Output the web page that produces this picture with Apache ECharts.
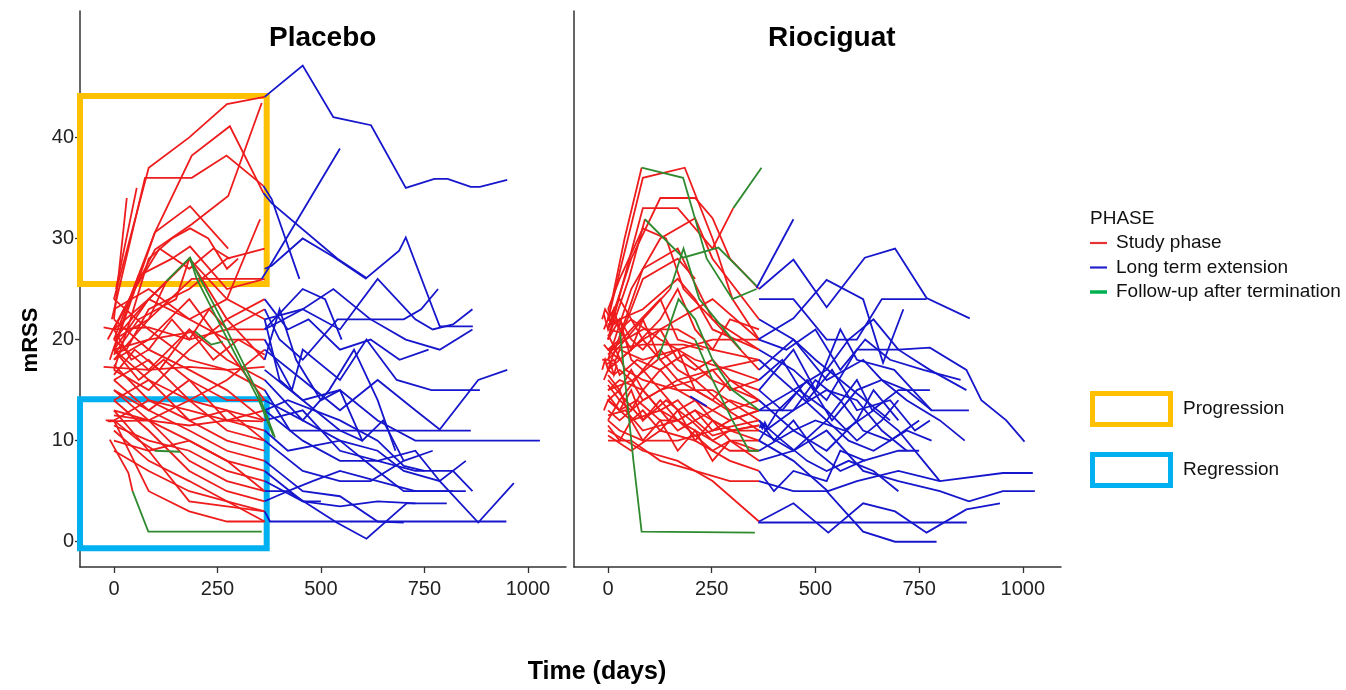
<!DOCTYPE html>
<html><head><meta charset="utf-8">
<script src="https://cdn.jsdelivr.net/npm/echarts@6/dist/echarts.min.js"></script>
<style>html,body{margin:0;padding:0;background:#fff}#c{width:1346px;height:690px}</style>
</head><body><div id="c"></div>
<script>
// ---- tick labels / categories ----
const xTickValues = [0, 250, 500, 750, 1000];
const yTickValues = [0, 10, 20, 30, 40];
const panelTitles = ['Placebo', 'Riociguat'];
const phaseNames = ['Study phase', 'Long term extension', 'Follow-up after termination'];
const boxNames = ['Progression', 'Regression'];
// annotation boxes (days, mRSS)
const progressionBox = [[-82, 44.1], [369, 25.5]];
const regressionBox = [[-82, 14.1], [369, -0.65]];

// ---- Placebo: study phase (days, mRSS) ----
const placeboStudy = [
  [[0,24],[84,37],[182,40],[273,43.3],[364,44]],
  [[-5,22],[75,36],[188,36],[272,38.2],[361,35.2]],
  [[0,20],[99,30.6],[188,38.2],[280,41.1],[361,34.5]],
  [[0,21],[99,28.9],[188,31.4],[276,34.2],[357,43.4]],
  [[0,22],[31,34]],
  [[5,25],[55,35]],
  [[0,19],[99,30.6],[184,33.2],[276,29]],
  [[-10,18],[59,26.3],[140,28],[184,29.2],[273,25],[364,26]],
  [[0,20],[84,22],[188,26],[273,26],[357,26]],
  [[0,12],[84,5],[182,3],[273,2],[364,2]],
  [[-10,10.1],[35,6.8],[45,5]],
  [[0,11],[84,8],[182,6],[273,4],[364,2]],
  [[0,13],[84,9],[182,4],[273,3.5],[364,3]],
  [[0,14],[84,11],[182,7],[273,5],[364,4]],
  [[-25,21.2],[0,21],[84,21.2],[182,20],[273,21],[364,21]],
  [[-25,17.3],[84,17],[182,17.3],[273,17],[364,17.3]],
  [[0,18.7],[30,19],[84,23],[182,25],[273,28],[364,29]],
  [[0,19],[84,24],[182,28],[273,22],[364,18]],
  [[0,18],[84,20],[182,24],[273,19],[364,14]],
  [[0,17],[84,15],[182,19],[273,22],[364,24]],
  [[0,16],[84,18],[182,14],[273,16],[364,19]],
  [[0,15],[84,13],[182,16],[273,12],[364,13]],
  [[0,14],[84,16],[182,12],[273,10],[364,9]],
  [[-20,12],[0,12],[84,14],[182,13],[273,12],[364,11]],
  [[0,13],[84,12],[182,10],[273,8],[364,7]],
  [[0,11.5],[84,10],[182,9],[273,7],[364,6]],
  [[0,10],[84,9],[182,10],[273,8],[364,5]],
  [[0,22],[84,19],[182,17],[273,15],[364,12]],
  [[0,19],[84,16],[182,14],[273,13],[364,10]],
  [[0,24],[84,21],[182,18],[273,17],[364,15]],
  [[0,23],[84,25],[182,22],[273,20],[364,20]],
  [[0,20],[84,17],[182,21],[273,18],[364,16]],
  [[0,16],[84,13],[182,11],[273,9],[364,8]],
  [[0,17.5],[84,14],[182,12],[273,13],[364,12]],
  [[0,15],[84,12],[182,8],[273,6],[364,5]],
  [[0,18.5],[60,22],[150,24],[182,28],[273,24],[364,22]],
  [[0,12.5],[84,12],[182,14],[273,11],[364,10]],
  [[0,9],[84,7],[182,5],[273,4],[364,3]],
  [[0,18],[84,22],[127,25.8]],
  [[0,20],[84,24],[184,28]],
  [[0,19],[84,20],[196,20.8]],
  [[0,12],[60,10],[99,9]],
  [[0,21],[84,24],[182,22],[273,24],[353,31.9]],
  [[0,17],[40,22],[84,28],[140,30],[184,31],[228,30],[273,27],[300,28]],
  [[-15,20],[50,25],[110,29],[182,27],[240,29],[280,28]],
  [[-15,11.9],[84,12],[182,11.5],[273,12],[360,11.9]],
  [[0,19],[60,16],[120,18],[182,16],[273,14],[364,14]],
  [[0,21],[42,18],[84,19],[140,22],[182,20],[230,23],[273,21],[364,23]],
  [[0,16.5],[50,19],[110,17],[182,21],[240,18],[300,20],[364,18.5]]
];
// ---- Placebo: long term extension ----
const placeboLTE = [
  [[364,44],[456,47.1],[530,42],[621,41.2],[705,35],[774,35.9],[806,35.9],[862,35.1],[884,35.1],[950,35.8]],
  [[361,35.2],[381,33.9],[448,26]],
  [[361,34.5],[381,33.5],[540,28],[610,26.1],[689,28.8],[705,30.1],[771,23],[787,21.3],[867,21.3]],
  [[357,26],[377,27.3],[546,38.9]],
  [[364,27],[381,27.3],[456,30],[530,28.2],[610,26]],
  [[364,22],[456,23],[530,25],[620,22],[700,22],[742,23],[783,25]],
  [[364,23],[400,20],[456,18],[540,22],[620,22],[705,20],[787,19],[866,21]],
  [[364,21],[456,23],[546,21],[637,26],[728,22],[770,21],[819,21.5],[866,23]],
  [[364,20],[430,15],[456,19],[546,16],[610,20],[683,16],[767,15],[884,15]],
  [[364,19],[456,16],[546,13],[637,16],[728,13],[787,11.1],[880,16],[950,17]],
  [[364,17],[456,14],[546,15],[637,12],[728,10],[843,10],[1029,10]],
  [[364,15],[425,11],[546,11],[637,11],[728,11],[862,11]],
  [[364,14],[456,12],[546,10],[637,9],[700,7],[787,6],[880,1.9],[966,5.8]],
  [[364,13],[456,10],[546,8],[637,8],[728,7],[819,7],[866,5]],
  [[364,12],[456,13],[546,9],[637,8],[728,9],[787,6],[850,8]],
  [[364,11],[420,9],[546,10],[637,7],[700,5],[787,5],[850,5]],
  [[364,10],[456,7],[546,6],[620,6],[700,8],[770,9]],
  [[364,4],[420,5],[538,1.9],[610,0.3],[707,3.8],[804,3.8]],
  [[364,3],[377,2],[948,2]],
  [[364,6],[456,4],[546,3.5],[637,4],[728,3.8]],
  [[364,18],[400,23],[440,18],[500,14],[546,15],[600,10],[650,12],[700,8]],
  [[364,16],[456,12],[520,15],[580,19],[637,14],[680,9]],
  [[364,22],[400,16],[456,14],[546,11],[600,10]],
  [[364,8],[456,5],[546,4.5],[637,2],[700,1.9]],
  [[364,21],[456,25],[510,24],[550,20]],
  [[364,13],[420,14],[546,12],[637,10],[700,7.5],[750,7]],
  [[364,7],[456,4],[500,4]],
  [[364,5],[420,5],[480,6],[546,7],[637,6],[728,5],[819,5]],
  [[364,24],[420,21],[470,22],[546,19],[620,20],[690,18],[760,19]]
];
// ---- Placebo: follow-up after termination ----
const placeboFU = [
  [[45,5],[83,1],[357,1]],
  [[127,25.8],[184,28.1],[196,27],[260,22],[349,14.6],[389,10.3]],
  [[184,28],[200,26],[262,21],[350,14],[385,10.5]],
  [[196,20.8],[235,19.5],[263,19.8]],
  [[99,9],[159,8.9]]
];

// ---- Riociguat: study phase ----
const riociguatStudy = [
  [[0,22],[40,30],[81,37]],
  [[0,22],[84,36],[185,37],[252,30],[300,24],[364,20]],
  [[0,21],[56,28],[126,34],[210,34],[252,32],[294,28],[364,25]],
  [[0,20],[84,33],[168,33],[252,29],[302,33]],
  [[0,18],[56,25],[126,30],[210,32],[252,28],[364,22]],
  [[0,23],[28,26],[84,31],[140,30],[182,25],[252,22],[364,19]],
  [[0,17],[84,27],[168,29],[252,22],[364,17]],
  [[-10,21],[0,22],[14,21.5],[28,22],[56,20],[84,19],[126,21],[168,18],[210,17],[252,18],[294,16],[364,15]],
  [[-10,16],[0,17],[14,16.5],[28,17],[56,16],[84,14],[126,15],[168,13],[210,14],[252,12],[294,11],[364,10]],
  [[-14,18],[0,18],[14,17.5],[28,19],[84,18],[168,19],[252,20],[364,20]],
  [[-10,13],[0,14],[28,13],[56,15],[84,12],[126,14],[168,12],[210,13],[252,11],[294,12],[364,13]],
  [[0,12],[28,11],[84,10],[168,10],[252,11],[364,12]],
  [[0,15],[28,16],[84,15],[126,17],[168,15],[252,13],[294,14],[364,13]],
  [[0,10],[56,10],[126,8],[210,7],[294,6],[364,6]],
  [[0,11],[84,9],[168,8],[252,6],[364,2]],
  [[0,19],[28,18],[84,20],[168,16],[252,14],[364,11]],
  [[0,14],[56,12],[126,13],[210,11],[294,9],[364,9]],
  [[-10,22.5],[0,21],[14,23],[28,21],[56,22],[126,20],[210,18],[294,17],[364,16]],
  [[-5,17.5],[14,18],[28,16.5],[70,18],[126,17],[182,18.5],[252,16],[364,14]],
  [[0,20.5],[42,17],[84,16],[168,15],[252,15],[364,12]],
  [[0,16],[42,14],[84,12],[140,14],[200,12],[252,10],[294,11],[364,11.5]],
  [[0,13],[28,12],[84,14],[168,16],[252,17],[364,18]],
  [[0,18.5],[56,21],[126,24],[168,20],[252,19],[364,18]],
  [[0,22],[28,24],[84,20],[168,22],[252,24],[364,20]],
  [[0,12.5],[42,13],[84,11],[168,12],[252,9],[294,10],[364,10]],
  [[0,15.5],[28,14],[84,17],[126,15],[210,16],[294,13],[364,14]],
  [[0,10.5],[56,9],[126,11],[210,10],[294,8],[364,7]],
  [[0,21.5],[84,23],[168,26],[210,24],[252,21],[364,19]],
  [[0,19],[28,20],[56,23],[84,26],[126,27],[168,28],[210,26]],
  [[0,17],[56,19],[126,22],[168,25],[210,21],[252,19],[294,22],[364,21]],
  [[0,16.5],[28,15],[56,17],[84,15],[126,13],[168,14],[210,12],[252,13],[294,12],[364,13]],
  [[0,12],[28,14],[56,13],[84,15],[126,13],[168,11],[210,12],[252,10.5],[294,11],[364,11]],
  [[0,14.5],[28,13],[70,14],[126,12],[168,12],[210,13],[252,12],[300,11],[364,11.5]],
  [[0,20],[50,26],[89,31.9]],
  [[0,21],[29,20.7]],
  [[0,15],[60,16],[120,18]],
  [[0,19],[84,21],[168,21],[210,20]],
  [[0,18],[84,22],[150,25]],
  [[-14,22],[-7,23],[0,22.5],[7,21.5],[14,22.5]],
  [[-14,17],[-7,18],[0,17],[7,17.5],[14,16.5],[21,17.5]],
  [[-10,19.5],[0,19],[84,19.5],[182,19.5],[230,19]],
  [[0,23],[28,21],[56,19],[84,22],[126,18],[168,19],[210,15],[252,14],[294,16],[364,14]],
  [[0,14],[28,15],[56,12],[84,13],[126,11],[168,13],[210,10],[252,12],[294,10],[364,9]],
  [[0,11.5],[28,10],[56,12],[84,10],[126,12],[168,9],[210,11],[252,8],[294,10],[364,8]],
  [[0,20],[28,22],[56,18],[84,17],[126,19],[168,17],[210,16],[252,17],[294,15],[364,16]]
];
// ---- Riociguat: long term extension ----
const riociguatLTE = [
  [[358,25.1],[447,31.9]],
  [[364,25],[447,27.9],[527,23.2],[619,28.1],[692,29],[768,24.1],[872,22.1]],
  [[364,24],[447,24],[527,20],[600,20],[660,24],[768,24]],
  [[362,20],[447,22.1],[527,25.9],[615,24],[663,17.7],[712,23]],
  [[364,19],[447,17],[527,14],[600,19],[700,19],[776,19.2],[864,17],[900,14],[960,12],[1004,9.9]],
  [[364,2],[447,3.8],[531,0.9],[615,3.8],[692,3],[768,0.9],[864,3.2],[945,3.8]],
  [[362,1.9],[865,1.9]],
  [[364,6],[447,5],[527,5],[615,1],[692,0],[792,0]],
  [[364,10],[447,8],[530,5],[600,6],[700,7],[800,6],[952,6.8],[1024,6.8]],
  [[364,11],[447,9],[527,11],[615,7],[700,6],[800,5],[870,4],[952,5],[1029,5]],
  [[364,13],[447,15],[527,12],[600,16],[637,13],[700,15],[776,15]],
  [[364,16],[420,18],[480,14],[540,17],[600,13],[680,14],[740,11],[776,12]],
  [[364,15],[447,19],[500,15],[560,21],[600,18],[690,17],[780,13],[870,13]],
  [[364,12],[400,10],[447,12],[500,9],[560,7],[615,8],[700,9],[750,9]],
  [[364,13],[447,13],[500,16],[560,14],[615,11],[680,10],[750,12]],
  [[364,18],[447,15],[527,17],[580,20],[640,22],[700,19],[776,17],[864,15]],
  [[364,11.3],[375,11.5],[380,11],[447,13],[527,15],[600,14],[660,11],[720,9]],
  [[364,9],[447,11],[527,9],[600,12],[640,15],[700,12]],
  [[364,7],[400,5],[447,7],[527,6],[560,9],[620,8]],
  [[364,20],[430,19],[500,21],[560,17],[620,20],[680,18],[760,17],[850,16]],
  [[364,17],[447,20],[527,16],[615,18],[660,16],[720,14],[800,12],[860,10]],
  [[364,14],[447,11],[500,12],[570,11],[640,13],[700,11],[760,8],[800,6]],
  [[364,12],[420,10],[480,8],[527,7],[580,8],[640,7],[700,5]],
  [[364,22],[447,20],[500,18],[560,16],[620,14],[680,12]],
  [[364,10],[410,13],[460,15],[527,13],[600,10],[660,12],[700,14]],
  [[198,14.4],[238,13.4]],
  [[366,11.6],[372,11.2],[378,11.8],[384,11.3]],
  [[364,8],[447,9],[527,12],[580,10],[640,9],[720,11],[780,10]],
  [[364,15],[420,13],[480,16],[540,12],[600,15],[660,16],[720,15],[780,13]]
];
// ---- Riociguat: follow-up after termination ----
const riociguatFU = [
  [[81,37],[181,36],[238,28],[300,24],[358,25]],
  [[302,33],[370,37]],
  [[89,31.9],[181,28.1],[266,29.1],[358,25.3]],
  [[29,20.7],[61,8.1],[81,1],[354,0.9]],
  [[120,18],[170,24],[210,22],[252,18],[300,15],[364,13]],
  [[210,20],[252,16],[300,12],[340,9],[364,9]],
  [[150,25],[182,29],[220,24],[260,22],[320,19]]
];

const phaseColors = ['#ee1c1c', '#1616cc', '#2f8a2f'];
const legendSwatchColors = ['#e53333', '#2222cc', '#00b050'];
const boxColors = ['#ffc000', '#00b0f0'];

const chart = echarts.init(document.getElementById('c'), null, {renderer: 'canvas'});

const grids = [
  {left: 80, top: 11, width: 486, height: 556},
  {left: 574, top: 11, width: 487, height: 556}
];
const axisColor = '#333';
const font = 'Liberation Sans, Arial, sans-serif';
const xAxes = grids.map((g, i) => ({
  type: 'value', gridIndex: i, min: -82, max: 1092,
  axisLine: {show: true, onZero: false, lineStyle: {color: axisColor, width: 1.5}},
  axisTick: {show: true, customValues: xTickValues, length: 6, lineStyle: {color: axisColor, width: 1.3}},
  axisLabel: {show: true, customValues: xTickValues, fontSize: 20, color: '#222', margin: 12, fontFamily: font,
    formatter: v => String(v)},
  splitLine: {show: false}
}));
const yAxes = grids.map((g, i) => ({
  type: 'value', gridIndex: i, min: -2.5, max: 52.5,
  axisLine: {show: true, onZero: false, lineStyle: {color: axisColor, width: 1.5}},
  axisTick: {show: i === 0, customValues: yTickValues, length: 5, lineStyle: {color: axisColor, width: 1.3}},
  axisLabel: {show: i === 0, customValues: yTickValues, fontSize: 20, color: '#222', margin: 6, fontFamily: font,
    formatter: v => String(v)},
  splitLine: {show: false}
}));

function linesSeries(panel, arr, phaseIdx) {
  return {
    type: 'lines', name: phaseNames[phaseIdx], coordinateSystem: 'cartesian2d',
    xAxisIndex: panel, yAxisIndex: panel, polyline: true, silent: true,
    z: 2 + phaseIdx,
    lineStyle: {color: phaseColors[phaseIdx], width: 1.8, opacity: 1, curveness: 0},
    data: arr.map(c => ({coords: c}))
  };
}
const series = [
  linesSeries(0, placeboStudy, 0), linesSeries(0, placeboLTE, 1), linesSeries(0, placeboFU, 2),
  linesSeries(1, riociguatStudy, 0), linesSeries(1, riociguatLTE, 1), linesSeries(1, riociguatFU, 2),
  {
    type: 'line', xAxisIndex: 0, yAxisIndex: 0, data: [], clip: false, silent: true, z: 10,
    markArea: {
      silent: true,
      label: {show: false},
      data: [
        [{coord: progressionBox[0], itemStyle: {color: 'rgba(0,0,0,0)', borderColor: boxColors[0], borderWidth: 6}}, {coord: progressionBox[1]}],
        [{coord: regressionBox[0], itemStyle: {color: 'rgba(0,0,0,0)', borderColor: boxColors[1], borderWidth: 6}}, {coord: regressionBox[1]}]
      ]
    }
  }
];

const graphic = [
  {type: 'text', left: 323 - 54, top: 24, style: {text: panelTitles[0], font: 'bold 28px ' + font, fill: '#000'}},
  {type: 'text', left: 832 - 64, top: 24, style: {text: panelTitles[1], font: 'bold 28px ' + font, fill: '#000'}},
  {type: 'text', x: 597, y: 672, style: {text: 'Time (days)', font: 'bold 25px ' + font, fill: '#000', align: 'center', verticalAlign: 'middle'}},
  {type: 'text', x: 31, y: 340, rotation: Math.PI / 2, style: {text: 'mRSS', font: 'bold 22px ' + font, fill: '#000', align: 'center', verticalAlign: 'middle'}},
  {type: 'text', x: 1090, y: 219, style: {text: 'PHASE', font: '19px ' + font, fill: '#111', verticalAlign: 'middle'}}
];
phaseNames.forEach((n, i) => {
  const y = 243 + i * 24.5;
  graphic.push({type: 'line', shape: {x1: 1090, y1: y, x2: 1107, y2: y}, style: {stroke: legendSwatchColors[i], lineWidth: i === 2 ? 3.5 : 2.2}});
  graphic.push({type: 'text', x: 1116, y: y, style: {text: n, font: '19px ' + font, fill: '#111', verticalAlign: 'middle'}});
});
boxNames.forEach((n, i) => {
  const y0 = 393.5 + i * 61;
  graphic.push({type: 'rect', shape: {x: 1092.5, y: y0, width: 78, height: 31}, style: {fill: 'none', stroke: boxColors[i], lineWidth: 5}});
  graphic.push({type: 'text', x: 1183, y: y0 + 15.5, style: {text: n, font: '19px ' + font, fill: '#111', verticalAlign: 'middle'}});
});

chart.setOption({
  animation: false,
  backgroundColor: '#fff',
  grid: grids,
  xAxis: xAxes,
  yAxis: yAxes,
  series: series,
  graphic: graphic
});
</script></body></html>
